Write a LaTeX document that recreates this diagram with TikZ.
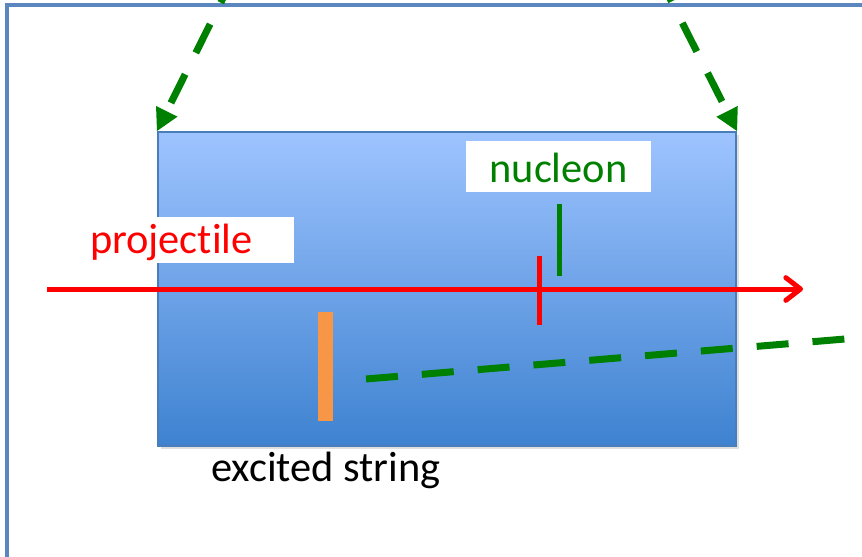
\documentclass[tikz,border=0pt]{standalone}
\usepackage{fontspec}
\setmainfont{Carlito}[Ligatures=NoCommon]
\usetikzlibrary{arrows.meta,shadows}
\definecolor{frameblue}{HTML}{5B86C0}
\definecolor{boxtop}{HTML}{9EC4FF}
\definecolor{boxbot}{HTML}{3E82D0}
\definecolor{boxedge}{HTML}{4A7EBB}
\definecolor{pgreen}{HTML}{008000}
\definecolor{pred}{HTML}{FF0000}
\definecolor{porange}{HTML}{F79646}
\begin{document}
\begin{tikzpicture}[x=0.75pt,y=-0.75pt,
  lbl/.style={font=\fontsize{31.8}{38}\selectfont, inner sep=0pt},
  gdash/.style={draw=pgreen, line width=5.25pt, dash pattern=on 24pt off 18pt},
  gtip/.style={-{Triangle[length=16.5pt,width=18pt,line width=0pt]}},
  tick/.style={line width=3.75pt},
  frameline/.style={draw=frameblue, line width=2.4pt}]
\useasboundingbox (0,0) rectangle (862,556);
\clip (0,0) rectangle (862,556);
% outer frame
\coordinate (fbl) at (7,570);
\coordinate (ftl) at (7,5);
\coordinate (ftr) at (880,5);
\draw[frameline] (fbl) -- (ftl) -- (ftr);
% blue box
\node[draw=boxedge, line width=1.5pt, top color=boxtop, bottom color=boxbot,
      minimum width=433.5pt, minimum height=235.5pt, inner sep=0pt,
      drop shadow={shadow xshift=2pt, shadow yshift=-2.5pt, opacity=0.25}]
      (box) at (447,289) {};
% projectile label
\node[lbl, fill=white, text=pred, minimum width=162pt, minimum height=34.5pt,
      inner xsep=9pt, text width=144pt, align=left,
      text height=24pt, text depth=4.5pt] (proj) at (186,240) {projectile};
% red projectile arrow
\coordinate (pa) at (47,289);
\coordinate (pb) at (803,289);
\draw[pred, line width=3.75pt, -{Straight Barb[length=11pt,width=17pt,round]}] (pa) -- (pb);
% ticks
\coordinate (rt1) at (539,256);
\coordinate (rt2) at (539,325);
\draw[tick, pred] (rt1) -- (rt2);
\coordinate (gt1) at (559,204);
\coordinate (gt2) at (559,276);
\draw[tick, pgreen] (gt1) -- (gt2);
% nucleon label
\node[lbl, fill=white, text=pgreen, minimum width=138.75pt, minimum height=38.25pt,
      text height=23.25pt, text depth=0pt]
      (nucleon) at (558.5,166.5) {nucleon};
% excited string
\node[fill=porange, minimum width=11.25pt, minimum height=81.75pt, inner sep=0pt]
      (string) at (325.5,366.5) {};
\node[lbl, anchor=base west] (excited) at (211,481) {excited string};
% green dashed line from string
\coordinate (s1) at (366,379);
\coordinate (s2) at (845,339);
\draw[gdash] (s1) -- (s2);
% green dashed arrows to the corners
\coordinate (la) at (235,-26);
\coordinate (ra) at (657,-27);
\draw[gdash, gtip] (la) -- (box.north west);
\draw[gdash, gtip] (ra) -- (box.north east);
\end{tikzpicture}
\end{document}
